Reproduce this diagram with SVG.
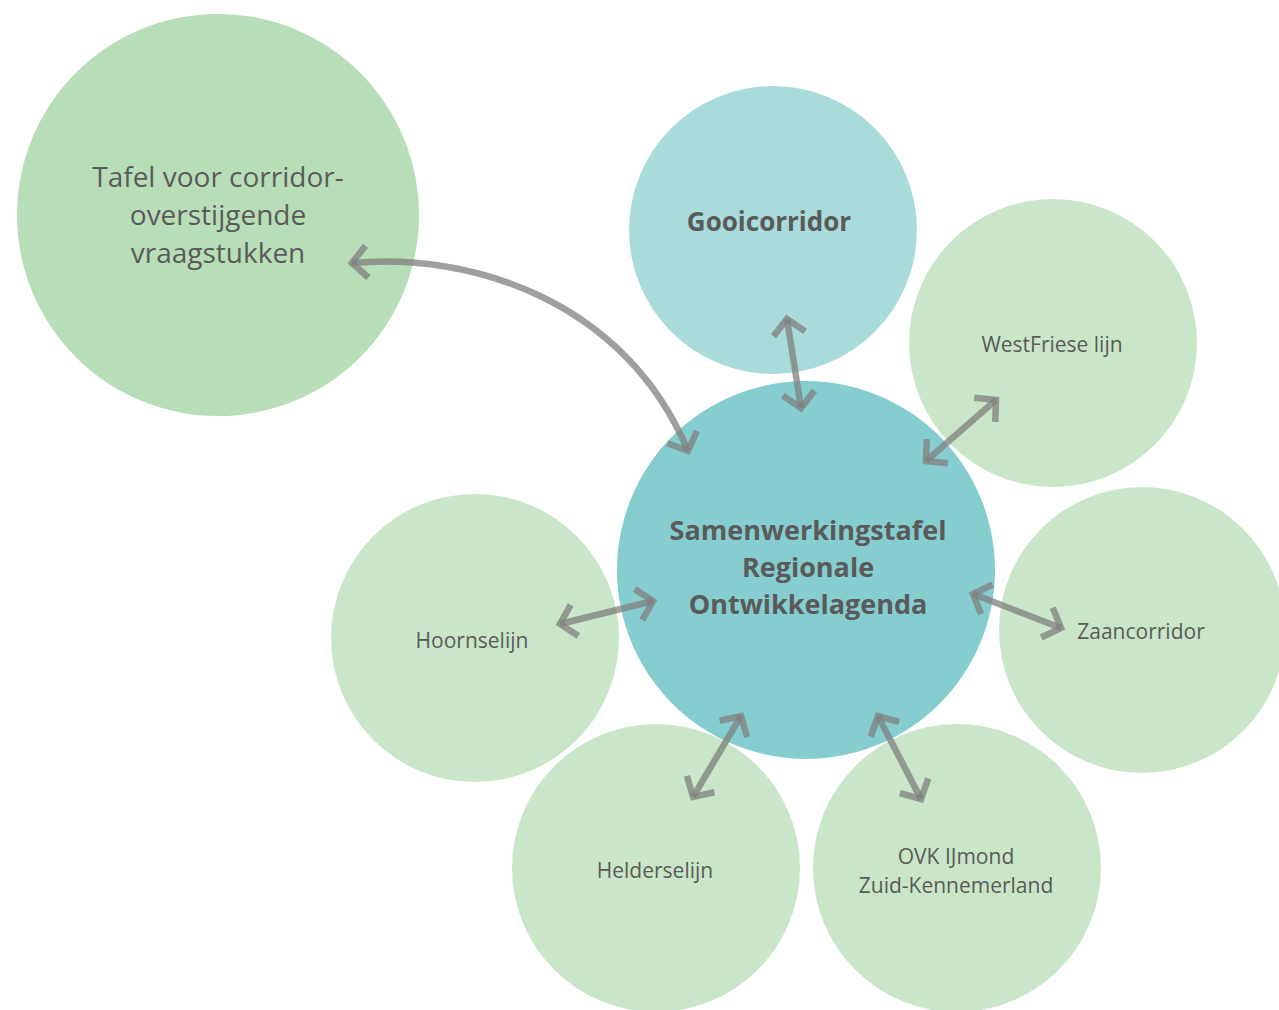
<svg xmlns="http://www.w3.org/2000/svg" width="1279" height="1010" viewBox="0 0 1279 1010">
<style>
.t{font-family:"Open Sans","Liberation Sans",sans-serif;fill:#5a5a5a;text-anchor:middle}
.b{font-weight:bold}
.a{fill:none;stroke:#7f7f7f;stroke-opacity:0.75;stroke-width:6.5}
.g{fill:#cae6c8}
</style>
<defs>
<marker id="h" markerUnits="userSpaceOnUse" markerWidth="40" markerHeight="40" refX="0" refY="0" viewBox="-20 -20 40 40" orient="auto-start-reverse" overflow="visible">
<path d="M-15,-16 L0,0 L-15,16" fill="none" stroke="#7f7f7f" stroke-opacity="0.75" stroke-width="6.5"/>
</marker>
</defs>
<rect width="1279" height="1010" fill="#fff"/>
<g id="tafel"><circle cx="218" cy="215" r="201" fill="#b8deb8"/>
<text class="t" font-size="28" x="218" y="187">Tafel voor corridor-</text>
<text class="t" font-size="28" x="218" y="225">overstijgende</text>
<text class="t" font-size="28" x="218" y="263">vraagstukken</text></g>
<g id="gooi"><circle cx="773" cy="230" r="144" fill="#aadbdb"/>
<text class="t b" font-size="26" x="769" y="231">Gooicorridor</text></g>
<g id="westfriese"><circle cx="1053" cy="343" r="144" class="g"/>
<text class="t" font-size="21" x="1052" y="352">WestFriese lijn</text></g>
<g id="zaan"><circle cx="1142" cy="630" r="143" class="g"/>
<text class="t" font-size="21" x="1141" y="639">Zaancorridor</text></g>
<g id="hoorn"><circle cx="475" cy="638" r="144" class="g"/>
<text class="t" font-size="21" x="472" y="648">Hoornselijn</text></g>
<g id="helder"><circle cx="656" cy="868" r="144" class="g"/>
<text class="t" font-size="21" x="655" y="878">Helderselijn</text></g>
<g id="ovk"><circle cx="957" cy="868" r="144" class="g"/>
<text class="t" font-size="21" x="956" y="864">OVK IJmond</text>
<text class="t" font-size="21" x="956" y="893">Zuid-Kennemerland</text></g>
<g id="central"><circle cx="806" cy="570" r="189" fill="#86cdd0"/>
<text class="t b" font-size="27" x="808" y="540">Samenwerkingstafel</text>
<text class="t b" font-size="27" x="808" y="577">Regionale</text>
<text class="t b" font-size="27" x="808" y="614">Ontwikkelagenda</text></g>
<g id="connectors">
<path class="a" d="M352,263 C470,252 625,300 688,451" marker-start="url(#h)" marker-end="url(#h)"/>
<path class="a" d="M787,319 L801,408" marker-start="url(#h)" marker-end="url(#h)"/>
<path class="a" d="M996,400 L926,461" marker-start="url(#h)" marker-end="url(#h)"/>
<path class="a" d="M560,624 L653,601" marker-start="url(#h)" marker-end="url(#h)"/>
<path class="a" d="M973,594 L1061,628" marker-start="url(#h)" marker-end="url(#h)"/>
<path class="a" d="M741,716 L693,797" marker-start="url(#h)" marker-end="url(#h)"/>
<path class="a" d="M878,716 L921,799" marker-start="url(#h)" marker-end="url(#h)"/>
</g>
</svg>
